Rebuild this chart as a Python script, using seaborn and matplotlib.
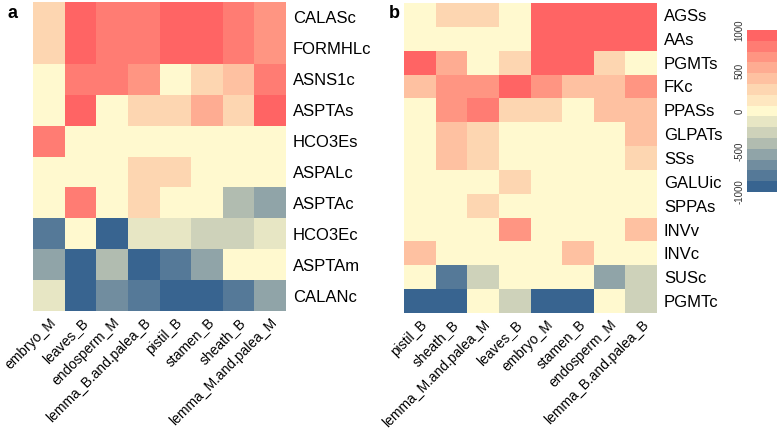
import numpy as np
import pandas as pd
import matplotlib
matplotlib.use("Agg")
import matplotlib.pyplot as plt
import seaborn as sns
from matplotlib.colors import LinearSegmentedColormap

# ---- data ----
rows_a = ["CALASc", "FORMHLc", "ASNS1c", "ASPTAs", "HCO3Es", "ASPALc",
          "ASPTAc", "HCO3Ec", "ASPTAm", "CALANc"]
cols_a = ["embryo_M", "leaves_B", "endosperm_M", "lemma_B.and.palea_B",
          "pistil_B", "stamen_B", "sheath_B", "lemma_M.and.palea_M"]
vals_a = [
    [200, 950, 750, 850, 1000, 1000, 750, 600],
    [200, 950, 750, 850, 1000, 1000, 750, 600],
    [0, 800, 800, 600, 0, 300, 450, 850],
    [0, 950, 0, 200, 200, 550, 200, 950],
    [850, 0, 0, 0, 0, 0, 0, 0],
    [0, 0, 0, 330, 330, 0, 0, 0],
    [0, 750, 0, 330, 0, 0, -450, -600],
    [-850, 0, -1000, -200, -200, -330, -330, -200],
    [-600, -1000, -450, -1000, -750, -600, 0, 0],
    [-200, -1000, -700, -850, -1000, -1000, -750, -600],
]

rows_b = ["AGSs", "AAs", "PGMTs", "FKc", "PPASs", "GLPATs", "SSs", "GALUic",
          "SPPAs", "INVv", "INVc", "SUSc", "PGMTc"]
cols_b = ["pistil_B", "sheath_B", "lemma_M.and.palea_M", "leaves_B",
          "embryo_M", "stamen_B", "endosperm_M", "lemma_B.and.palea_B"]
vals_b = [
    [0, 200, 200, 0, 1000, 1000, 1000, 1000],
    [0, 0, 0, 0, 1000, 1000, 1000, 1000],
    [950, 550, 0, 200, 1000, 1000, 200, 0],
    [350, 700, 650, 950, 600, 400, 400, 700],
    [0, 600, 750, 300, 200, 0, 400, 400],
    [0, 450, 330, 0, 0, 0, 0, 350],
    [0, 350, 200, 0, 0, 0, 0, 200],
    [0, 0, 0, 200, 0, 0, 0, 0],
    [0, 0, 200, 0, 0, 0, 0, 0],
    [0, 0, 0, 600, 0, 0, 0, 350],
    [450, 0, 0, 0, 0, 450, 0, 0],
    [0, -750, -250, 0, 0, 0, -550, -250],
    [-1000, -1000, 0, -330, -1000, -1000, 0, -330],
]

cbar_ticks = [-1000, -500, 0, 500, 1000]

# ---- style ----
plt.rcParams["font.family"] = ["Liberation Sans", "DejaVu Sans"]

cmap = LinearSegmentedColormap.from_list(
    "bwr_custom",
    [(0.0, "#386490"), (1/6, "#7b94a2"), (2/6, "#c6ccb6"), (0.5, "#fff9cf"),
     (4/6, "#fdd0ac"), (5/6, "#ff9d87"), (1.0, "#ff6464")], N=15)

W, H = 778, 432
fig = plt.figure(figsize=(W / 100, H / 100), dpi=100)

def box(x0, y0, x1, y1):
    return [x0 / W, 1 - y1 / H, (x1 - x0) / W, (y1 - y0) / H]

ax_a = fig.add_axes(box(33, 2, 286, 311))
ax_b = fig.add_axes(box(404, 3, 657, 313))
cax = fig.add_axes(box(747, 30, 777, 192))

df_a = pd.DataFrame(vals_a, index=rows_a, columns=cols_a)
df_b = pd.DataFrame(vals_b, index=rows_b, columns=cols_b)

sns.heatmap(df_a, ax=ax_a, cmap=cmap, vmin=-1000, vmax=1000, cbar=False)
sns.heatmap(df_b, ax=ax_b, cmap=cmap, vmin=-1000, vmax=1000, cbar=True,
            cbar_ax=cax, cbar_kws={"ticks": cbar_ticks})

for ax in (ax_a, ax_b):
    ax.yaxis.tick_right()
    ax.tick_params(axis="y", length=0, pad=5, labelsize=12, rotation=0)
    ax.tick_params(axis="x", length=0, pad=3, labelsize=10)
    plt.setp(ax.get_xticklabels(), rotation=45, ha="right",
             rotation_mode="anchor")
    ax.set_xlabel("")
    ax.set_ylabel("")

cax.yaxis.tick_left()
cax.tick_params(axis="y", length=0, pad=2, labelsize=7, colors="#333333")
for t in cax.get_yticklabels():
    t.set_rotation(90)
    t.set_va("center")
cax.set_yticklabels([str(v) for v in cbar_ticks])
for s in cax.spines.values():
    s.set_visible(False)

fig.text(8 / W, 1 - 14 / H, "a", fontsize=13, fontweight="bold", va="center")
fig.text(389 / W, 1 - 14 / H, "b", fontsize=13, fontweight="bold", va="center")

fig.savefig("out.png", dpi=100)
